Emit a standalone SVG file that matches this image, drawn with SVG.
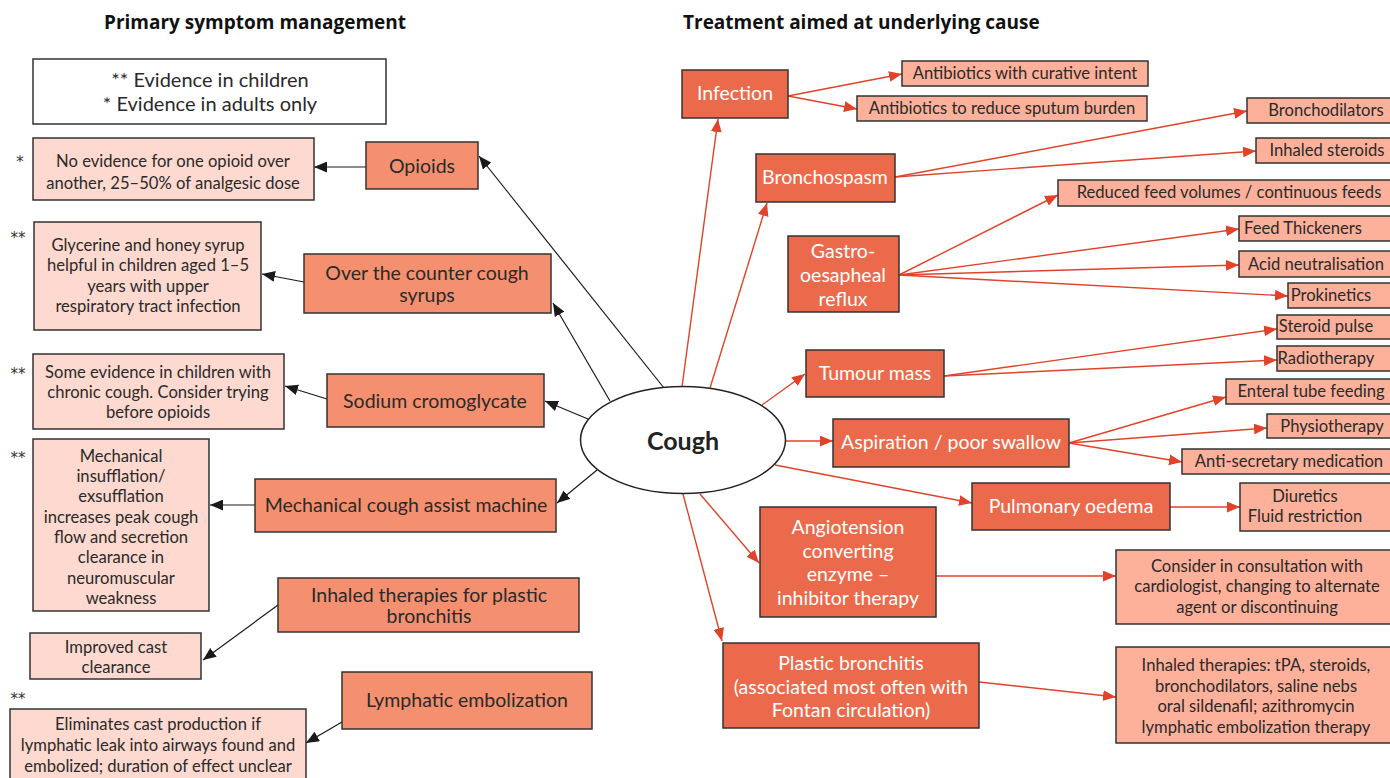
<svg xmlns="http://www.w3.org/2000/svg" width="1390" height="778" viewBox="0 0 1390 778">
  <defs>
    <marker id="ah-black" viewBox="0 0 12 10" refX="12" refY="5" markerWidth="13" markerHeight="11" markerUnits="userSpaceOnUse" orient="auto">
      <path d="M0,0 L12,5 L0,10 z" fill="#1a1a1a"/>
    </marker>
    <marker id="ah-red" viewBox="0 0 12 10" refX="12" refY="5" markerWidth="13" markerHeight="11" markerUnits="userSpaceOnUse" orient="auto">
      <path d="M0,0 L12,5 L0,10 z" fill="#e0432a"/>
    </marker>
  </defs>
  <style>
    text { font-family: Lato, "Open Sans", "Liberation Sans", sans-serif; fill: #2a2a2a; text-anchor: middle; dominant-baseline: central; }
    .title { font-family: "Open Sans", Lato, sans-serif; font-weight: bold; font-size: 19px; text-anchor: start; fill: #111; }
    .legend { fill: #ffffff; stroke: #333; stroke-width: 1.5; }
    .sym { fill: #f4906f; stroke: #333; stroke-width: 1.5; }
    .note { fill: #fdd9cf; stroke: #333; stroke-width: 1.5; }
    .cause { fill: #ec6a4c; stroke: #333; stroke-width: 1.5; }
    .treat { fill: #fdb09a; stroke: #333; stroke-width: 1.5; }
    .t20 { font-size: 20px; }
    .t19 { font-size: 19.5px; }
    .t16 { font-size: 16.6px; }
    .w { fill: #ffffff; }
    .star { font-family: "DejaVu Sans", "Liberation Sans", sans-serif; font-size: 15px; text-anchor: middle; fill: #333; }
    .blk { stroke: #1a1a1a; stroke-width: 1.2; fill: none; marker-end: url(#ah-black); }
    .red { stroke: #e0432a; stroke-width: 1.4; fill: none; marker-end: url(#ah-red); }
  </style>

  <rect width="1390" height="778" fill="#ffffff"/>

  <!-- Column headings -->
  <text class="title" x="104" y="22">Primary symptom management</text>
  <text class="title" x="683" y="22">Treatment aimed at underlying cause</text>

  <!-- Connectors -->
  <g id="connectors">
    <!-- symptom management branches -->
    <line class="blk" x1="664" y1="388" x2="479" y2="156"/>
    <line class="blk" x1="610" y1="401" x2="553" y2="303"/>
    <line class="blk" x1="588" y1="419" x2="545" y2="401"/>
    <line class="blk" x1="597" y1="470" x2="557" y2="503"/>
    <line class="blk" x1="366" y1="167" x2="314" y2="167"/>
    <line class="blk" x1="304" y1="282" x2="262" y2="274"/>
    <line class="blk" x1="327" y1="399" x2="285" y2="386"/>
    <line class="blk" x1="255" y1="505" x2="210" y2="505"/>
    <line class="blk" x1="278" y1="605" x2="203" y2="660"/>
    <line class="blk" x1="342" y1="722" x2="306" y2="743"/>

    <!-- underlying cause branches -->
    <line class="red" x1="682" y1="387" x2="718" y2="119"/>
    <line class="red" x1="710" y1="388" x2="767" y2="203"/>
    <line class="red" x1="762" y1="405" x2="805" y2="374"/>
    <line class="red" x1="785" y1="441" x2="833" y2="441"/>
    <line class="red" x1="775" y1="465" x2="972" y2="503"/>
    <line class="red" x1="700" y1="494" x2="759" y2="563"/>
    <line class="red" x1="683" y1="494" x2="722" y2="641"/>

    <!-- treatments -->
    <line class="red" x1="788" y1="96" x2="902" y2="74"/>
    <line class="red" x1="788" y1="96" x2="857" y2="109"/>
    <line class="red" x1="895" y1="177" x2="1247" y2="111"/>
    <line class="red" x1="895" y1="177" x2="1256" y2="151"/>
    <line class="red" x1="899" y1="275" x2="1058" y2="195"/>
    <line class="red" x1="899" y1="275" x2="1239" y2="229"/>
    <line class="red" x1="899" y1="275" x2="1239" y2="265"/>
    <line class="red" x1="899" y1="275" x2="1288" y2="296"/>
    <line class="red" x1="944" y1="376" x2="1277" y2="329"/>
    <line class="red" x1="944" y1="376" x2="1277" y2="360"/>
    <line class="red" x1="1069" y1="443" x2="1226" y2="397"/>
    <line class="red" x1="1069" y1="443" x2="1267" y2="428"/>
    <line class="red" x1="1069" y1="443" x2="1182" y2="462"/>
    <line class="red" x1="1170" y1="507" x2="1240" y2="507"/>
    <line class="red" x1="936" y1="576" x2="1116" y2="576"/>
    <line class="red" x1="979" y1="682" x2="1116" y2="697"/>
  </g>

  <!-- Legend -->
  <g id="legend">
    <rect class="legend" x="33" y="59" width="353" height="65"/>
    <text class="t20" x="210" y="79">** Evidence in children</text>
    <text class="t20" x="210" y="103">* Evidence in adults only</text>
  </g>

  <!-- Central node -->
  <g id="cough">
    <ellipse cx="683" cy="440" rx="102.5" ry="53.5" fill="#ffffff" stroke="#222" stroke-width="1.5"/>
    <text x="683" y="440" style="font-size:25px;font-weight:bold;fill:#222">Cough</text>
  </g>

  <!-- Symptom management (left) -->
  <g id="opioids">
    <rect class="sym" x="366" y="142" width="112" height="47"/>
    <text class="t19" x="422" y="165">Opioids</text>
  </g>
  <g id="opioids-note">
    <text class="star" x="20" y="162">*</text>
    <rect class="note" x="33" y="138" width="281" height="62"/>
    <text class="t16" x="173" y="161">No evidence for one opioid over</text>
    <text class="t16" x="173" y="183">another, 25–50% of analgesic dose</text>
  </g>

  <g id="otc-syrups">
    <rect class="sym" x="304" y="254" width="247" height="59"/>
    <text class="t19" x="427" y="272">Over the counter cough</text>
    <text class="t19" x="427" y="294">syrups</text>
  </g>
  <g id="otc-note">
    <text class="star" x="18" y="238">**</text>
    <rect class="note" x="34" y="222" width="227" height="108"/>
    <text class="t16" x="148" y="245">Glycerine and honey syrup</text>
    <text class="t16" x="148" y="265">helpful in children aged 1–5</text>
    <text class="t16" x="148" y="286">years with upper</text>
    <text class="t16" x="148" y="306">respiratory tract infection</text>
  </g>

  <g id="cromoglycate">
    <rect class="sym" x="327" y="374" width="217" height="53"/>
    <text class="t19" x="435" y="400">Sodium cromoglycate</text>
  </g>
  <g id="cromoglycate-note">
    <text class="star" x="18" y="374">**</text>
    <rect class="note" x="33" y="354" width="251" height="75"/>
    <text class="t16" x="158" y="372">Some evidence in children with</text>
    <text class="t16" x="158" y="392">chronic cough. Consider trying</text>
    <text class="t16" x="158" y="412">before opioids</text>
  </g>

  <g id="cough-assist">
    <rect class="sym" x="255" y="479" width="301" height="53"/>
    <text class="t19" x="406" y="504">Mechanical cough assist machine</text>
  </g>
  <g id="cough-assist-note">
    <text class="star" x="18" y="458">**</text>
    <rect class="note" x="33" y="439" width="176" height="172"/>
    <text class="t16" x="121" y="456">Mechanical</text>
    <text class="t16" x="121" y="476">insufflation/</text>
    <text class="t16" x="121" y="496">exsufflation</text>
    <text class="t16" x="121" y="517">increases peak cough</text>
    <text class="t16" x="121" y="537">flow and secretion</text>
    <text class="t16" x="121" y="557">clearance in</text>
    <text class="t16" x="121" y="578">neuromuscular</text>
    <text class="t16" x="121" y="598">weakness</text>
  </g>

  <g id="inhaled-plastic">
    <rect class="sym" x="278" y="578" width="301" height="54"/>
    <text class="t19" x="429" y="594">Inhaled therapies for plastic</text>
    <text class="t19" x="429" y="615">bronchitis</text>
  </g>
  <g id="inhaled-plastic-note">
    <rect class="note" x="30" y="633" width="171" height="46"/>
    <text class="t16" x="116" y="647">Improved cast</text>
    <text class="t16" x="116" y="667">clearance</text>
  </g>

  <g id="lymphatic">
    <rect class="sym" x="342" y="672" width="250" height="57"/>
    <text class="t19" x="467" y="699">Lymphatic embolization</text>
  </g>
  <g id="lymphatic-note">
    <text class="star" x="18" y="699">**</text>
    <rect class="note" x="10" y="709" width="296" height="75"/>
    <text class="t16" x="158" y="724">Eliminates cast production if</text>
    <text class="t16" x="158" y="745">lymphatic leak into airways found and</text>
    <text class="t16" x="158" y="766">embolized; duration of effect unclear</text>
  </g>

  <!-- Underlying causes (right) -->
  <g id="infection">
    <rect class="cause" x="682" y="70" width="106" height="48"/>
    <text class="t19 w" x="735" y="92">Infection</text>
  </g>
  <g id="abx-curative">
    <rect class="treat" x="902" y="61" width="246" height="25"/>
    <text class="t16" x="1025" y="73">Antibiotics with curative intent</text>
  </g>
  <g id="abx-sputum">
    <rect class="treat" x="857" y="96" width="290" height="25"/>
    <text class="t16" x="1002" y="108">Antibiotics to reduce sputum burden</text>
  </g>

  <g id="bronchospasm">
    <rect class="cause" x="756" y="154" width="139" height="48"/>
    <text class="t19 w" x="825" y="176">Bronchospasm</text>
  </g>
  <g id="bronchodilators">
    <rect class="treat" x="1247" y="98" width="150" height="25"/>
    <text class="t16" x="1326" y="110">Bronchodilators</text>
  </g>
  <g id="inhaled-steroids">
    <rect class="treat" x="1256" y="138" width="140" height="25"/>
    <text class="t16" x="1327" y="150">Inhaled steroids</text>
  </g>

  <g id="gord">
    <rect class="cause" x="788" y="236" width="111" height="76"/>
    <text class="t19 w" x="843" y="250">Gastro-</text>
    <text class="t19 w" x="843" y="274">oesapheal</text>
    <text class="t19 w" x="843" y="298">reflux</text>
  </g>
  <g id="reduced-feeds">
    <rect class="treat" x="1058" y="180" width="340" height="26"/>
    <text class="t16" x="1229" y="192">Reduced feed volumes /  continuous feeds</text>
  </g>
  <g id="feed-thickeners">
    <rect class="treat" x="1239" y="216" width="158" height="25"/>
    <text class="t16" x="1303" y="228">Feed Thickeners</text>
  </g>
  <g id="acid">
    <rect class="treat" x="1239" y="251" width="158" height="26"/>
    <text class="t16" x="1316" y="264">Acid neutralisation</text>
  </g>
  <g id="prokinetics">
    <rect class="treat" x="1288" y="283" width="110" height="25"/>
    <text class="t16" x="1331" y="295">Prokinetics</text>
  </g>

  <g id="tumour">
    <rect class="cause" x="806" y="350" width="138" height="47"/>
    <text class="t19 w" x="875" y="372">Tumour mass</text>
  </g>
  <g id="steroid-pulse">
    <rect class="treat" x="1277" y="315" width="120" height="24"/>
    <text class="t16" x="1326" y="326">Steroid pulse</text>
  </g>
  <g id="radiotherapy">
    <rect class="treat" x="1277" y="346" width="120" height="25"/>
    <text class="t16" x="1326" y="358">Radiotherapy</text>
  </g>

  <g id="aspiration">
    <rect class="cause" x="833" y="419" width="236" height="48"/>
    <text class="t19 w" x="951" y="441">Aspiration / poor swallow</text>
  </g>
  <g id="enteral">
    <rect class="treat" x="1226" y="379" width="171" height="25"/>
    <text class="t16" x="1311" y="391">Enteral tube feeding</text>
  </g>
  <g id="physio">
    <rect class="treat" x="1267" y="414" width="130" height="24"/>
    <text class="t16" x="1332" y="426">Physiotherapy</text>
  </g>
  <g id="antisecretory">
    <rect class="treat" x="1182" y="449" width="215" height="25"/>
    <text class="t16" x="1289" y="461">Anti-secretary medication</text>
  </g>

  <g id="pulmonary-oedema">
    <rect class="cause" x="972" y="483" width="198" height="47"/>
    <text class="t19 w" x="1071" y="505">Pulmonary oedema</text>
  </g>
  <g id="diuretics">
    <rect class="treat" x="1240" y="483" width="157" height="48"/>
    <text class="t16" x="1305" y="496">Diuretics</text>
    <text class="t16" x="1305" y="516">Fluid restriction</text>
  </g>

  <g id="ace-inhibitor">
    <rect class="cause" x="760" y="507" width="176" height="110"/>
    <text class="t19 w" x="848" y="526">Angiotension</text>
    <text class="t19 w" x="848" y="550">converting</text>
    <text class="t19 w" x="848" y="573">enzyme –</text>
    <text class="t19 w" x="848" y="597">inhibitor therapy</text>
  </g>
  <g id="cardiology">
    <rect class="treat" x="1116" y="550" width="281" height="74"/>
    <text class="t16" x="1257" y="566">Consider in consultation with</text>
    <text class="t16" x="1257" y="586">cardiologist, changing to alternate</text>
    <text class="t16" x="1257" y="607">agent or discontinuing</text>
  </g>

  <g id="plastic-bronchitis">
    <rect class="cause" x="723" y="643" width="256" height="85"/>
    <text class="t19 w" x="851" y="662">Plastic bronchitis</text>
    <text class="t19 w" x="851" y="686">(associated most often with</text>
    <text class="t19 w" x="851" y="709">Fontan circulation)</text>
  </g>
  <g id="plastic-treatment">
    <rect class="treat" x="1116" y="647" width="281" height="96"/>
    <text class="t16" x="1256" y="665">Inhaled therapies: tPA, steroids,</text>
    <text class="t16" x="1256" y="686">bronchodilators, saline nebs</text>
    <text class="t16" x="1256" y="706">oral sildenafil; azithromycin</text>
    <text class="t16" x="1256" y="727">lymphatic embolization therapy</text>
  </g>
</svg>
